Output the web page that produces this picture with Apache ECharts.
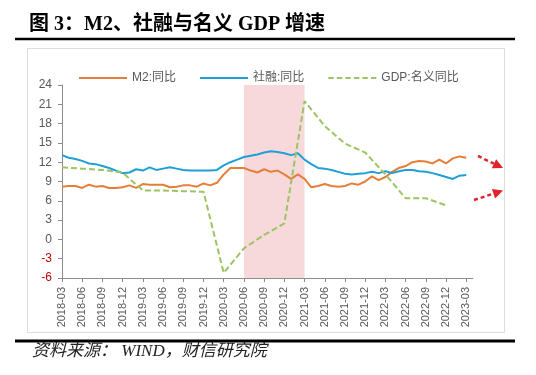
<!DOCTYPE html>
<html>
<head>
<meta charset="utf-8">
<script src="https://cdn.jsdelivr.net/npm/echarts@6/dist/echarts.min.js"></script>
<style>
  html, body { margin: 0; padding: 0; background: #fff; }
  #main { width: 536px; height: 375px; }
</style>
</head>
<body>
<div id="main"></div>
<script>
// months 2018-03 .. 2023-04
var months = [];
for (var y = 2018; y <= 2023; y++) {
  for (var m = 1; m <= 12; m++) {
    if ((y == 2018 && m < 3) || (y == 2023 && m > 4)) continue;
    months.push(y + '-' + (m < 10 ? '0' + m : m));
  }
}

var yTicks = [-6, 24, 3];

// M2 同比, 2018-03 .. 2023-03
var m2 = [8.2, 8.3, 8.3, 8.0, 8.5, 8.2, 8.3, 8.0, 8.0, 8.1,
  8.4, 8.0, 8.6, 8.5, 8.5, 8.5, 8.1, 8.2, 8.4, 8.4, 8.2, 8.7,
  8.4, 8.8, 10.1, 11.1, 11.1, 11.1, 10.7, 10.4, 10.9, 10.5, 10.7, 10.1,
  9.4, 10.1, 9.4, 8.1, 8.3, 8.6, 8.3, 8.2, 8.3, 8.7, 8.5, 9.0,
  9.8, 9.2, 9.7, 10.5, 11.1, 11.4, 12.0, 12.2, 12.1, 11.8, 12.4, 11.8,
  12.6, 12.9, 12.7];

// 社融 同比, 2018-03 .. 2023-03
var tsf = [13.1, 12.7, 12.5, 12.2, 11.8, 11.7, 11.4, 11.1, 10.7, 10.3,
  10.4, 10.9, 10.7, 11.2, 10.8, 11.0, 11.2, 11.0, 10.8, 10.7, 10.7, 10.7,
  10.7, 10.8, 11.5, 12.0, 12.4, 12.8, 13.0, 13.2, 13.5, 13.7, 13.6, 13.4,
  13.1, 13.4, 12.4, 11.7, 11.1, 11.0, 10.8, 10.5, 10.2, 10.1, 10.2, 10.3,
  10.5, 10.3, 10.6, 10.3, 10.6, 10.8, 10.8, 10.6, 10.5, 10.3, 10.0, 9.7,
  9.4, 9.9, 10.0];

// GDP 名义同比, quarterly
var gdpQuarters = ['2018-03', '2018-06', '2018-09', '2018-12',
  '2019-03', '2019-06', '2019-09', '2019-12',
  '2020-03', '2020-06', '2020-09', '2020-12',
  '2021-03', '2021-06', '2021-09', '2021-12',
  '2022-03', '2022-06', '2022-09', '2022-12'];
var gdp = [11.2, 11.0, 10.8, 10.4,
  7.6, 7.6, 7.5, 7.4,
  -5.2, -1.4, 0.7, 2.5,
  21.5, 17.6, 14.9, 13.5,
  10.1, 6.4, 6.4, 5.3];

var band = ['2020-06', '2021-03'];

var gdpData = gdpQuarters.map(function (q, i) { return [q, gdp[i]]; });

var font = '"Liberation Sans", "Noto Sans CJK SC", sans-serif';
var grey = '#595959';
var everyQuarter = function (i) { return i % 3 === 0; };

// legend icons: plain bar / dashed bar
var solidIcon = 'path://M0,0H48V2H0Z';
var dashIcon = 'path://M0,0H5V2H0Z M8,0H13V2H8Z M16,0H21V2H16Z M24,0H29V2H24Z M32,0H37V2H32Z M40,0H45V2H40Z';

var chart = echarts.init(document.getElementById('main'));
chart.setOption({
  animation: false,
  textStyle: { fontFamily: font },
  grid: { left: 62, right: 63, top: 85, bottom: 97 },
  legend: {
    data: [
      { name: 'M2:同比', icon: solidIcon },
      { name: '社融:同比', icon: solidIcon },
      { name: 'GDP:名义同比', icon: dashIcon }
    ],
    left: 74, top: 67,
    itemWidth: 48, itemHeight: 2.5, itemGap: 24,
    textStyle: { color: grey, fontSize: 12, fontFamily: font }
  },
  xAxis: [{
    type: 'category',
    data: months,
    boundaryGap: false,
    axisLine: { show: false },
    axisTick: { show: false },
    axisLabel: { interval: everyQuarter, rotate: 90, margin: 9, color: grey, fontSize: 11 }
  }, {
    type: 'category',
    data: months,
    boundaryGap: false,
    position: 'bottom',
    axisLine: { onZero: true, lineStyle: { color: '#8c8c8c', width: 1 } },
    axisTick: { interval: everyQuarter, length: 4, lineStyle: { color: '#8c8c8c' } },
    axisLabel: { show: false }
  }],
  yAxis: {
    type: 'value',
    min: yTicks[0], max: yTicks[1], interval: yTicks[2],
    splitLine: { show: false },
    axisLine: { show: true, lineStyle: { color: '#8c8c8c' } },
    axisTick: { show: true, length: 4, lineStyle: { color: '#8c8c8c' } },
    axisLabel: {
      fontSize: 12, margin: 10,
      color: function (v) { return Number(v) < 0 ? '#c00000' : grey; }
    }
  },
  series: [{
    name: 'band',
    type: 'line',
    data: [],
    z: 1,
    markArea: {
      silent: true,
      itemStyle: { color: '#f7d9dc' },
      data: [[{ xAxis: band[0] }, { xAxis: band[1] }]]
    }
  }, {
    name: 'M2:同比',
    type: 'line',
    data: m2,
    z: 3,
    symbol: 'none',
    lineStyle: { color: '#e67e3a', width: 2 },
    itemStyle: { color: '#e67e3a' }
  }, {
    name: '社融:同比',
    type: 'line',
    data: tsf,
    z: 3,
    symbol: 'none',
    lineStyle: { color: '#1f9fd5', width: 2 },
    itemStyle: { color: '#1f9fd5' }
  }, {
    name: 'GDP:名义同比',
    type: 'line',
    data: gdpData,
    z: 3,
    symbol: 'none',
    lineStyle: { color: '#9cc460', width: 2, type: [6, 3] },
    itemStyle: { color: '#9cc460' }
  }],
  graphic: [
    {
      type: 'text', left: 29, top: 15,
      style: {
        text: '图 3：M2、社融与名义 GDP 增速',
        font: 'bold 20px "Liberation Serif", "Noto Sans CJK SC", serif',
        fill: '#000'
      }
    },
    { type: 'line', shape: { x1: 15, y1: 39, x2: 515, y2: 39 }, style: { stroke: '#000', lineWidth: 2.5 } },
    { type: 'rect', shape: { x: 27.5, y: 48.5, width: 477, height: 284 }, style: { fill: 'none', stroke: '#dcdcdc', lineWidth: 1 }, z: -1 },
    { type: 'line', shape: { x1: 15, y1: 341, x2: 515, y2: 341 }, style: { stroke: '#000', lineWidth: 3 } },
    {
      type: 'text', left: 32, top: 343,
      style: {
        text: '资料来源： WIND，财信研究院',
        font: 'italic 17px "Liberation Serif", "Noto Sans CJK SC", serif',
        fill: '#222'
      }
    },
    // red dashed arrows
    { type: 'line', shape: { x1: 478, y1: 156, x2: 494, y2: 163.7 }, style: { stroke: '#e0242a', lineWidth: 2.5, lineDash: [4, 3] } },
    { type: 'polygon', shape: { points: [[503, 168], [491.8, 168.2], [496.2, 159.2]] }, style: { fill: '#e0242a' } },
    { type: 'line', shape: { x1: 474, y1: 200, x2: 493.5, y2: 193.6 }, style: { stroke: '#e0242a', lineWidth: 2.5, lineDash: [4, 3] } },
    { type: 'polygon', shape: { points: [[503, 190.5], [495.1, 198.4], [491.9, 188.9]] }, style: { fill: '#e0242a' } }
  ]
});
</script>
</body>
</html>
